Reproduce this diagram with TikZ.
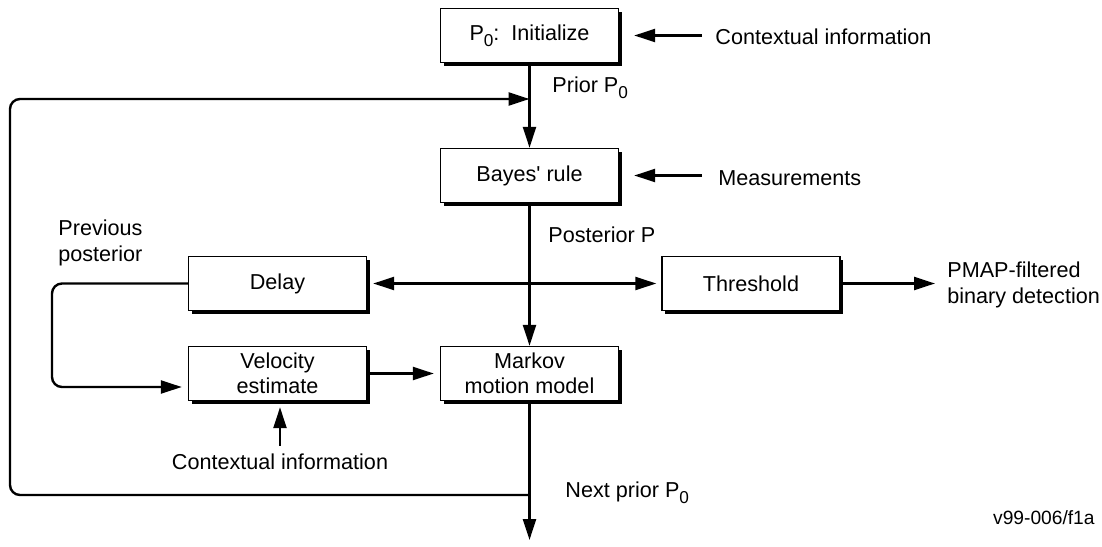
\documentclass[tikz,border=0pt]{standalone}
\usepackage{fontspec}
\setmainfont{Liberation Sans}
\usetikzlibrary{arrows.meta,shadows,positioning,calc}
\newcommand{\lowidx}[1]{\raisebox{-0.55ex}{\fontsize{8.6}{9}\selectfont #1}}

\begin{document}
\begin{tikzpicture}[x=0.5pt,y=-0.5pt,>={Triangle[length=10.5pt,width=6.5pt]},
  every node/.style={font=\fontsize{10.8}{12.6}\selectfont},
  blockbox/.style={draw,line width=0.7pt,fill=white,minimum width=89pt,minimum height=27pt,align=center,inner sep=1pt,
    drop shadow={shadow xshift=1.7pt,shadow yshift=-1.7pt,fill=black,opacity=1}},
  flow/.style={line width=1.2pt},
  note/.style={inner sep=0pt,align=left}]
\useasboundingbox (0,0) rectangle (1102,546);
\node[blockbox] (init) at (529.5,35.5) {P\lowidx{0}:\ \ Initialize};
\node[blockbox] (bayes) at (529.5,175.5) {Bayes\textquotesingle\ rule};
\node[blockbox] (delay) at (277.5,283.5) {Delay};
\node[blockbox] (thresh) at (751,283.5) {Threshold};
\node[blockbox] (velo) at (277.5,373.5) {Velocity\\estimate};
\node[blockbox] (markov) at (529.5,373.5) {Markov\\motion model};
\node[note,anchor=west] (ctxinit) at (715,37) {Contextual information};
\node[note,anchor=west] (meas) at (718,178) {Measurements};
\node[note,anchor=west] (prior) at (552,88) {Prior P\lowidx{0}};
\node[note,anchor=west] (post) at (548,235) {Posterior P};
\node[note,anchor=west] (prevpost) at (58,243) {Previous\\posterior};
\node[note,anchor=west] (pmap) at (947,285) {PMAP-filtered\\binary detection};
\node[note] (ctxvelo) at (280,462) {Contextual information};
\node[note,anchor=west] (nextprior) at (565,493) {Next prior P\lowidx{0}};
\node[note,anchor=east,font=\fontsize{9.6}{11}\selectfont] (figid) at (1095,518) {v99-006/f1a};
\coordinate (join) at (529.5,99);
\coordinate (loopleft) at (10,300);
\coordinate (split) at (529.5,495);
\coordinate (sink) at (529.5,540);
\coordinate (pmapin) at (935,283.5);
\coordinate (prevleft) at (52,330);
\draw[flow,->] (init) -- (bayes);
\draw[flow,->,shorten <=6.5pt,shorten >=7.5pt] (init.east -| ctxinit.west) -- (init.east);
\draw[flow,->,shorten <=8pt,shorten >=7.5pt] (bayes.east -| meas.west) -- (bayes.east);
\draw[flow,->] (bayes) -- (markov);
\draw[flow,<->,shorten <=3pt,shorten >=2.5pt] (delay.east) -- (thresh.west);
\draw[flow,->] (thresh.east) -- (pmapin);
\draw[flow,->,rounded corners=5pt,shorten >=3pt] (delay.west) -| (prevleft) |- ([yshift=-6.75pt]velo.west);
\draw[flow,->,shorten <=1pt,shorten >=3pt] (velo.east) -- (markov.west);
\draw[flow,->,shorten <=4pt,shorten >=3pt] (ctxvelo.north) -- (ctxvelo.north |- velo.south);
\draw[flow,->] (markov) -- (sink);
\draw[flow,->,rounded corners=5pt] (split) -| (loopleft) |- (join);
\end{tikzpicture}
\end{document}
